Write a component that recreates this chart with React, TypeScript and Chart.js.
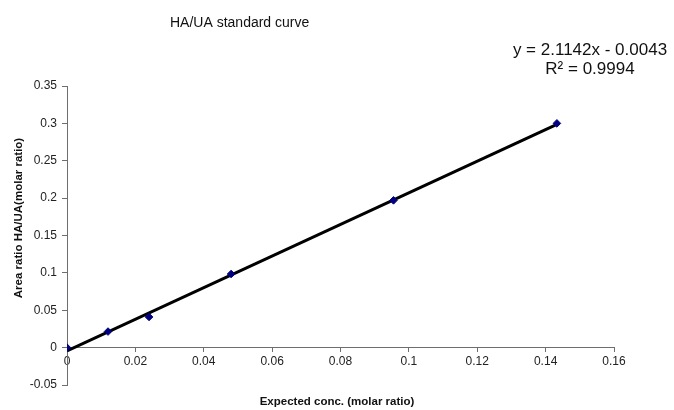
import React, { useEffect, useRef } from 'react';
import { Chart, registerables } from 'chart.js';

Chart.register(...registerables);

// ---- data ----
const xValues = [0, 0.012, 0.024, 0.048, 0.0955, 0.1433];
const yValues = [0, 0.0215, 0.041, 0.0985, 0.197, 0.3];
const trendSlope = 2.1142;
const trendIntercept = -0.0043;
const trendRange = [0, 0.1433];
const xTicks = [0, 0.02, 0.04, 0.06, 0.08, 0.1, 0.12, 0.14, 0.16];
const yTicks = [-0.05, 0, 0.05, 0.1, 0.15, 0.2, 0.25, 0.3, 0.35];
const chartTitle = 'HA/UA standard curve';
const equationLines = ['y = 2.1142x - 0.0043', 'R\u00B2 = 0.9994'];
const xAxisTitle = 'Expected conc. (molar ratio)';
const yAxisTitle = 'Area ratio HA/UA(molar ratio)';

const FONT = '"Liberation Sans", Arial, sans-serif';
const AXIS_COLOR = '#6e6e6e';

const textPlugin = {
  id: 'textPlugin',
  afterDraw(chart: any) {
    const ctx = chart.ctx as CanvasRenderingContext2D;
    ctx.save();
    ctx.fillStyle = '#111';
    ctx.textBaseline = 'middle';
    ctx.font = `14px ${FONT}`;
    ctx.textAlign = 'left';
    ctx.fillText(chartTitle, 170, 23);

    ctx.font = `17px ${FONT}`;
    ctx.textAlign = 'center';
    ctx.fillText(equationLines[0], 590, 50);
    ctx.fillText(equationLines[1], 590, 69);

    ctx.font = `bold 11.5px ${FONT}`;
    ctx.fillText(xAxisTitle, 337, 402);

    ctx.translate(19, 218);
    ctx.rotate(-Math.PI / 2);
    ctx.fillText(yAxisTitle, 0, 0);
    ctx.restore();
  },
};

export default function App() {
  const ref = useRef<HTMLCanvasElement | null>(null);

  useEffect(() => {
    if (!ref.current) return;
    const points = xValues.map((x, i) => ({ x, y: yValues[i] }));
    const trend = trendRange.map((x) => ({ x, y: trendSlope * x + trendIntercept }));
    const chart = new Chart(ref.current, {
      type: 'scatter',
      data: {
        datasets: [
          {
            label: 'data',
            data: points,
            pointStyle: 'rectRot',
            pointRadius: 3.8,
            backgroundColor: '#000080',
            borderColor: '#000080',
            borderWidth: 1,
            showLine: false,
            order: 0,
          },
          {
            label: 'trend',
            data: trend,
            showLine: true,
            borderColor: '#000',
            borderWidth: 3,
            pointRadius: 0,
            order: 1,
          },
        ],
      },
      options: {
        animation: false,
        responsive: false,
        devicePixelRatio: 1,
        layout: { padding: { left: 0, top: 86, right: 60, bottom: 25 } },
        plugins: {
          legend: { display: false },
          tooltip: { enabled: false },
          title: { display: false },
        },
        scales: {
          x: {
            type: 'linear',
            min: 0,
            max: 0.16,
            position: { y: 0 } as any,
            afterBuildTicks: (s: any) => {
              s.ticks = xTicks.map((v) => ({ value: v }));
            },
            grid: {
              drawOnChartArea: false,
              drawTicks: true,
              tickLength: 4,
              color: AXIS_COLOR,
            },
            border: { color: AXIS_COLOR, width: 1 },
            ticks: {
              font: { family: FONT, size: 12 },
              color: '#222',
              padding: 3,
              maxRotation: 0,
              autoSkip: false,
              callback: (v: any) => String(v),
            },
          },
          y: {
            type: 'linear',
            min: -0.05,
            max: 0.35,
            position: 'left',
            afterBuildTicks: (s: any) => {
              s.ticks = yTicks.map((v) => ({ value: v }));
            },
            afterFit: (s: any) => {
              s.width = 67;
            },
            grid: {
              drawOnChartArea: false,
              drawTicks: true,
              tickLength: 5,
              color: AXIS_COLOR,
            },
            border: { color: AXIS_COLOR, width: 1 },
            ticks: {
              font: { family: FONT, size: 12 },
              color: '#222',
              padding: 5,
              autoSkip: false,
              callback: (v: any) => String(v),
            },
          },
        },
      },
      plugins: [textPlugin],
    });
    return () => chart.destroy();
  }, []);

  return (
    <div style={{ position: 'absolute', left: 0, top: 0, width: 674, height: 410, background: '#fff' }}>
      <canvas ref={ref} width={674} height={410} />
    </div>
  );
}
